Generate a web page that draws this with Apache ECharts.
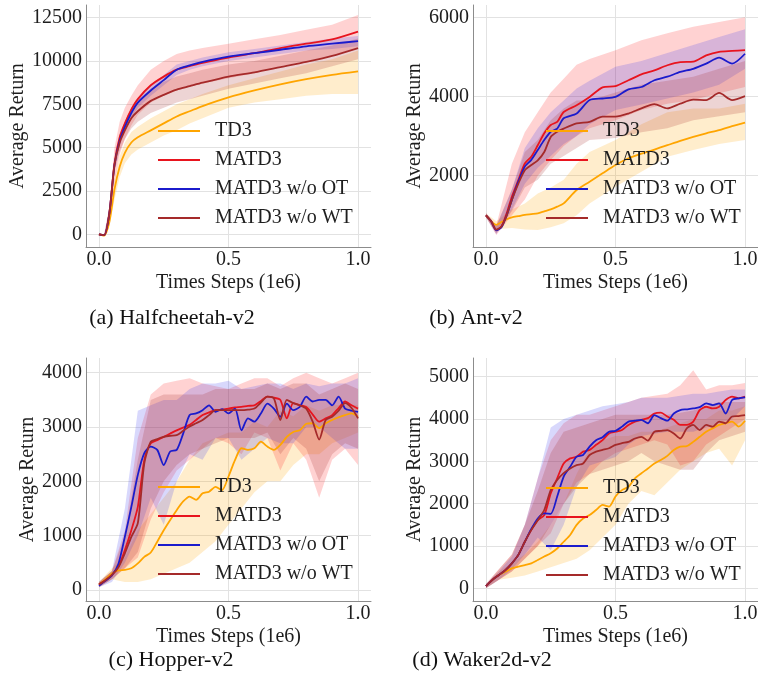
<!DOCTYPE html>
<html><head><meta charset="utf-8">
<script src="https://cdn.jsdelivr.net/npm/echarts@6/dist/echarts.min.js"></script>
<style>html,body{margin:0;padding:0;background:#fff}#c{width:758px;height:695px}</style>
</head><body><div id="c"></div>
<script>
// ---------- data ----------
const methods = ['TD3', 'MATD3', 'MATD3 w/o OT', 'MATD3 w/o WT'];
const xTicks = [0, 0.5, 1.0];
const captions = ['(a) Halfcheetah-v2', '(b) Ant-v2', '(c) Hopper-v2', '(d) Waker2d-v2'];

// (a) Halfcheetah-v2
const a_x = [0,0.02,0.04,0.06,0.08,0.1,0.125,0.15,0.2,0.25,0.3,0.35,0.4,0.5,0.6,0.7,0.8,0.9,1.0];
const a_yTicks = [0,2500,5000,7500,10000,12500];
const a_TD3   = [0,-80,700,2600,3900,4700,5300,5600,6000,6400,6800,7100,7400,7900,8300,8650,8950,9200,9400];
const a_MATD3 = [0,-50,1200,4100,5600,6400,7200,7800,8600,9100,9500,9700,9900,10200,10450,10750,11000,11250,11700];
const a_OT    = [0,-50,1200,4000,5400,6200,7000,7600,8300,8900,9500,9750,9950,10250,10450,10650,10850,11000,11150];
const a_WT    = [0,-50,1200,4000,5300,6000,6700,7100,7700,8050,8350,8550,8750,9100,9350,9650,9950,10300,10750];
const a_TD3_lo   = [0,-120,400,2000,3300,4100,4600,4900,5300,5700,6000,6400,6700,7300,7600,7800,8000,8100,8100];
const a_TD3_hi   = [0,-40,1000,3200,4500,5300,5900,6200,6700,7100,7500,7800,8100,8600,9000,9400,9800,10100,10600];
const a_MATD3_lo = [0,-100,800,3000,4600,5500,6300,6900,7600,8000,8300,8500,8700,9000,9300,9700,10000,10300,10800];
const a_MATD3_hi = [0,0,1600,5000,6500,7300,8000,8600,9500,10000,10400,10600,10750,11000,11250,11500,11800,12100,12650];
const a_OT_lo    = [0,-80,1000,3700,5100,5900,6700,7300,8000,8600,9200,9500,9700,10000,10200,10400,10600,10700,10850];
const a_OT_hi    = [0,-20,1400,4300,5700,6500,7300,7900,8600,9200,9800,10000,10200,10500,10700,10900,11100,11300,11450];
const a_WT_lo    = [0,-80,1000,3600,4800,5500,6100,6500,7000,7300,7600,7800,8000,8400,8700,9000,9300,9700,10100];
const a_WT_hi    = [0,-20,1400,4400,5800,6500,7300,7700,8400,8800,9100,9300,9500,9800,10000,10300,10600,10900,11300];

// (b) Ant-v2
const b_x  = [0,0.02,0.04,0.06,0.08,0.1,0.125,0.15,0.175,0.2,0.225,0.25,0.275,0.3,0.35,0.4,0.45,0.5,0.55,0.6,0.65,0.7,0.75,0.8,0.85,0.9,0.95,1.0];
const b_xb = [0,0.04,0.1,0.15,0.2,0.25,0.3,0.35,0.4,0.5,0.6,0.7,0.8,0.9,1.0];
const b_yTicks = [2000,4000,6000];
const b_TD3   = [1000,850,760,830,900,950,980,1010,1030,1050,1100,1150,1220,1300,1640,1850,2060,2270,2440,2560,2660,2770,2880,2980,3070,3150,3250,3340];
const b_MATD3 = [1000,850,630,720,1050,1470,1890,2310,2480,2770,3070,3280,3360,3610,3780,3990,4230,4260,4410,4560,4660,4790,4870,4880,5040,5130,5150,5170];
const b_OT    = [1000,850,620,700,1000,1390,1850,2230,2400,2650,2900,3110,3190,3450,3570,3910,3950,3990,4180,4240,4410,4500,4620,4700,4830,4980,4830,5080];
const b_WT    = [1000,850,640,720,1000,1390,1800,2140,2270,2390,2600,2980,3110,3190,3320,3360,3490,3490,3570,3700,3810,3700,3820,3920,3910,4090,3910,4010];
const b_TD3_lo   = [950,650,680,640,630,700,800,1000,1300,1720,2100,2480,2650,2800,2900];
const b_TD3_hi   = [1050,850,1150,1300,1550,1700,1900,2300,2600,2900,3300,3600,3700,3700,3820];
const b_MATD3_lo = [950,500,1000,1400,2000,2400,2750,3000,3200,3400,3660,3820,3910,4080,4240];
const b_MATD3_hi = [1050,750,2300,3100,3600,4100,4450,4800,4950,5170,5420,5600,5760,5880,6000];
const b_OT_lo    = [950,520,1150,1800,2200,2500,2800,3000,3300,3660,3800,3950,4100,4300,4700];
const b_OT_hi    = [1050,720,1650,2700,3200,3600,3900,4200,4400,4750,4900,5100,5300,5500,5700];
const b_WT_lo    = [950,540,1100,1700,1900,2300,2500,2700,2900,2950,3100,3200,3400,3500,3600];
const b_WT_hi    = [1050,740,1650,2600,2900,3400,3700,3900,3900,4100,4300,4400,4500,4700,4900];

// shared x grids for (c) and (d)
const x41 = [0,0.025,0.05,0.075,0.1,0.125,0.15,0.175,0.2,0.225,0.25,0.275,0.3,0.325,0.35,0.375,0.4,0.425,0.45,0.475,0.5,0.525,0.55,0.575,0.6,0.625,0.65,0.675,0.7,0.725,0.75,0.775,0.8,0.825,0.85,0.875,0.9,0.925,0.95,0.975,1.0];
const x21 = [0,0.05,0.1,0.15,0.2,0.25,0.3,0.35,0.4,0.45,0.5,0.55,0.6,0.65,0.7,0.75,0.8,0.85,0.9,0.95,1.0];

// (c) Hopper-v2
const c_yTicks = [0,1000,2000,3000,4000];
const c_TD3   = [100,200,307,360,370,400,490,610,690,890,1100,1290,1470,1630,1720,1660,1780,1810,1900,1840,2090,2390,2610,2580,2610,2730,2640,2580,2670,2820,2910,2940,3060,3070,2980,3070,3130,3180,3220,3250,3190];
const c_MATD3 = [100,180,276,430,736,1100,1530,2390,2700,2760,2820,2880,2940,2990,3040,3130,3220,3270,3310,3320,3340,3360,3370,3390,3400,3480,3560,3540,3500,3160,3440,3400,3370,3230,3100,3160,3220,3350,3470,3400,3340];
const c_OT    = [80,170,270,480,980,1530,2120,2520,2640,2580,2300,2550,2580,2880,3220,3250,3310,3400,3280,3330,3250,3340,2940,3160,3100,3250,3430,3340,3190,3430,3310,3370,3560,3470,3500,3500,3400,3560,3340,3300,3280];
const c_WT    = [100,180,280,420,675,980,1230,2330,2730,2780,2820,2840,2850,2930,3010,3070,3130,3220,3310,3310,3310,3310,3310,3320,3340,3450,3560,3530,3130,3500,3440,3400,3340,3100,2770,3130,3190,3300,3440,3350,3160];
const c_TD3_lo   = [50,200,150,150,200,300,400,500,700,900,1200,1500,1800,2000,2000,2300,2500,2500,2700,2800,2900];
const c_TD3_hi   = [150,400,600,1100,1400,1700,2000,2400,2700,2800,2900,2900,3100,3000,3300,3200,3400,3300,3400,3400,3400];
const c_MATD3_lo = [50,200,400,600,1300,1800,2200,2400,2600,2800,2700,2500,2900,2800,2200,2700,2400,1700,2400,2600,2300];
const c_MATD3_hi = [150,350,1100,2800,3600,3800,3850,3900,3800,3750,3700,3800,3900,3900,3750,3900,4000,3900,3800,3900,4000];
const c_OT_lo    = [50,150,500,1000,1700,1200,2000,2500,2400,2800,2800,2400,2600,2800,2700,2700,3000,3000,2800,2600,2600];
const c_OT_hi    = [150,350,1500,3300,3400,3500,3500,3700,3800,3800,3850,3700,3750,3800,3800,3700,3800,3750,3800,3800,3900];
const c_WT_lo    = [50,200,400,700,1500,2000,2300,2500,2600,2700,2800,2800,2800,2900,2500,2800,2600,2000,2500,2700,2600];
const c_WT_hi    = [150,350,1000,2400,3500,3600,3600,3600,3600,3700,3700,3700,3700,3800,3700,3800,3800,3600,3700,3800,3700];

// (d) Waker2d-v2
const d_yTicks = [0,1000,2000,3000,4000,5000];
const d_TD3   = [50,200,315,390,470,510,550,590,670,750,830,940,1100,1260,1500,1650,1730,1850,1970,1930,2170,2320,2400,2600,2720,2830,2950,3030,3130,3270,3350,3360,3460,3580,3700,3780,3860,3900,3940,3820,3960];
const d_MATD3 = [50,200,315,430,590,790,1100,1380,1610,1730,2240,2600,2950,3070,3110,3230,3270,3390,3500,3660,3700,3740,3860,3940,3980,4020,4130,4150,4060,3980,3860,3860,3940,4210,4290,4250,4290,4450,4530,4490,4530];
const d_OT    = [50,200,315,430,590,790,1100,1400,1650,1770,1760,2170,2640,2870,3110,3150,3350,3500,3570,3700,3720,3820,3940,3960,3980,3900,4090,4020,3960,4130,4210,4230,4250,4280,4370,4330,4370,4130,4450,4490,4510];
const d_WT    = [50,200,315,430,590,790,1100,1380,1610,1850,2320,2560,2720,2830,2910,2950,3150,3230,3270,3310,3390,3430,3460,3540,3580,3490,3700,3720,3740,3660,3540,3780,3860,3740,3860,3820,3940,3900,4060,4070,4090];
const d_TD3_lo   = [0,200,250,300,400,500,600,700,900,1200,1500,2000,2300,2200,2500,2800,3000,3200,3300,2900,3500];
const d_TD3_hi   = [100,400,600,800,1100,1500,2000,2700,3300,3500,3600,3600,3700,3700,3800,3900,4000,4000,4200,4200,4300];
const d_MATD3_lo = [0,200,400,700,1000,1300,2000,2500,2700,3000,3200,3300,3400,3500,3400,2900,3000,3400,3600,3800,4000];
const d_MATD3_hi = [100,450,800,1500,2600,3500,3900,4100,4100,4200,4300,4400,4500,4550,4600,4800,5150,4700,4800,4800,4850];
const d_OT_lo    = [0,200,450,800,1200,900,1500,2400,2900,3000,3100,3400,3600,3650,3700,3700,3700,3800,3900,4000,4300];
const d_OT_hi    = [100,400,750,1500,2600,3800,4000,4100,4200,4300,4350,4400,4500,4500,4500,4550,4600,4600,4650,4700,4700];
const d_WT_lo    = [0,200,400,700,1000,1500,2000,2400,2700,2800,2900,3000,3200,3000,2900,2800,2800,3200,3500,3600,3700];
const d_WT_hi    = [100,450,800,1500,2300,3200,3700,3800,3900,4000,4100,4100,4100,4100,4100,4150,4200,4300,4400,4400,4400];

// ---------- styling / layout ----------
const FONT = "'Liberation Serif', 'Times New Roman', serif";
const lineColors = ['#FFA500', '#E8141E', '#1B1BCC', '#A52A2A'];
const bandColors = ['rgba(255,165,0,0.2)', 'rgba(255,30,30,0.2)', 'rgba(60,60,240,0.2)', 'rgba(165,42,42,0.2)'];

const panels = [
  { x: a_x, xb: a_x, mean: [a_TD3, a_MATD3, a_OT, a_WT], lo: [a_TD3_lo, a_MATD3_lo, a_OT_lo, a_WT_lo], hi: [a_TD3_hi, a_MATD3_hi, a_OT_hi, a_WT_hi],
    yTicks: a_yTicks, yMin: -733, yMax: 13233, grid: { left: 86, top: 5, width: 285, height: 242 }, nameGap: 54, legend: { left: 158, top: 121 } },
  { x: b_x, xb: b_xb, mean: [b_TD3, b_MATD3, b_OT, b_WT], lo: [b_TD3_lo, b_MATD3_lo, b_OT_lo, b_WT_lo], hi: [b_TD3_hi, b_MATD3_hi, b_OT_hi, b_WT_hi],
    yTicks: b_yTicks, yMin: 200, yMax: 6311, grid: { left: 473, top: 5, width: 285, height: 242 }, nameGap: 44, legend: { left: 546, top: 121 } },
  { x: x41, xb: x21, mean: [c_TD3, c_MATD3, c_OT, c_WT], lo: [c_TD3_lo, c_MATD3_lo, c_OT_lo, c_WT_lo], hi: [c_TD3_hi, c_MATD3_hi, c_OT_hi, c_WT_hi],
    yTicks: c_yTicks, yMin: -202, yMax: 4271, grid: { left: 86, top: 358, width: 285, height: 243 }, nameGap: 40, legend: { left: 158, top: 477 } },
  { x: x41, xb: x21, mean: [d_TD3, d_MATD3, d_OT, d_WT], lo: [d_TD3_lo, d_MATD3_lo, d_OT_lo, d_WT_lo], hi: [d_TD3_hi, d_MATD3_hi, d_OT_hi, d_WT_hi],
    yTicks: d_yTicks, yMin: -300, yMax: 5442, grid: { left: 473, top: 358, width: 285, height: 243 }, nameGap: 44, legend: { left: 546, top: 478 } }
];
const captionPos = [[172, 318], [476, 318], [171, 660], [482, 660]];

const grids = [], xAxes = [], yAxes = [], series = [], legends = [];
const textCol = '#1e1e1e';
panels.forEach((p, gi) => {
  grids.push(Object.assign({ outerBoundsMode: 'none', containLabel: false }, p.grid));
  xAxes.push({
    type: 'value', gridIndex: gi, min: -0.05, max: 1.05,
    name: 'Times Steps (1e6)', nameLocation: 'middle', nameGap: 26,
    nameTextStyle: { fontFamily: FONT, fontSize: 20, color: textCol },
    axisLine: { show: true, onZero: false, lineStyle: { color: '#8c8c8c', width: 1 } },
    axisTick: { show: false, customValues: xTicks },
    axisLabel: { customValues: xTicks, formatter: v => Number(v).toFixed(1), fontFamily: FONT, fontSize: 20, color: textCol, margin: 3 },
    splitLine: { show: true, lineStyle: { color: '#e2e2e2', width: 1 } }
  });
  yAxes.push({
    type: 'value', gridIndex: gi, min: p.yMin, max: p.yMax,
    name: 'Average Return', nameLocation: 'middle', nameGap: p.nameGap,
    nameTextStyle: { fontFamily: FONT, fontSize: 20, color: textCol },
    axisLine: { show: true, onZero: false, lineStyle: { color: '#8c8c8c', width: 1 } },
    axisTick: { show: false, customValues: p.yTicks },
    axisLabel: { customValues: p.yTicks, formatter: v => String(v), fontFamily: FONT, fontSize: 20, color: textCol, margin: 4 },
    splitLine: { show: true, lineStyle: { color: '#e2e2e2', width: 1 } }
  });
  // bands
  methods.forEach((m, k) => {
    const xb = p.xb, lo = p.lo[k], hi = p.hi[k];
    series.push({
      type: 'custom', name: m + ' band', xAxisIndex: gi, yAxisIndex: gi, z: 2, silent: true, clip: true,
      data: xb.map((x, i) => [x, lo[i], hi[i]]),
      encode: { x: 0, y: [1, 2] },
      renderItem: function (params, api) {
        if (params.dataIndex !== 0) return null;
        const pts = [];
        for (let i = 0; i < xb.length; i++) pts.push(api.coord([xb[i], hi[i]]));
        for (let i = xb.length - 1; i >= 0; i--) pts.push(api.coord([xb[i], lo[i]]));
        return { type: 'polygon', shape: { points: pts }, style: { fill: bandColors[k] } };
      }
    });
  });
  // mean lines
  methods.forEach((m, k) => {
    series.push({
      type: 'line', name: m, xAxisIndex: gi, yAxisIndex: gi, z: 3,
      showSymbol: false, symbol: 'none', smooth: 0.25,
      data: p.x.map((x, i) => [x, p.mean[k][i]]),
      lineStyle: { color: lineColors[k], width: 1.8 },
      itemStyle: { color: lineColors[k] }
    });
  });
  legends.push({
    orient: 'vertical', left: p.legend.left, top: p.legend.top, padding: 0,
    data: methods, icon: 'rect', itemWidth: 42, itemHeight: 2, itemGap: 9, selectedMode: false,
    textStyle: { fontFamily: FONT, fontSize: 20, color: textCol, lineHeight: 20, padding: [0, 0, 0, 10] }
  });
});

const graphics = captions.map((t, i) => ({
  type: 'text', x: captionPos[i][0], y: captionPos[i][1],
  style: { text: t, fontFamily: FONT, fontSize: 22, fill: '#111', textAlign: 'center', textVerticalAlign: 'middle' }
}));

const chart = echarts.init(document.getElementById('c'), null, { renderer: 'canvas' });
chart.setOption({
  animation: false,
  backgroundColor: '#ffffff',
  grid: grids, xAxis: xAxes, yAxis: yAxes, series: series, legend: legends, graphic: graphics
});
</script></body></html>
